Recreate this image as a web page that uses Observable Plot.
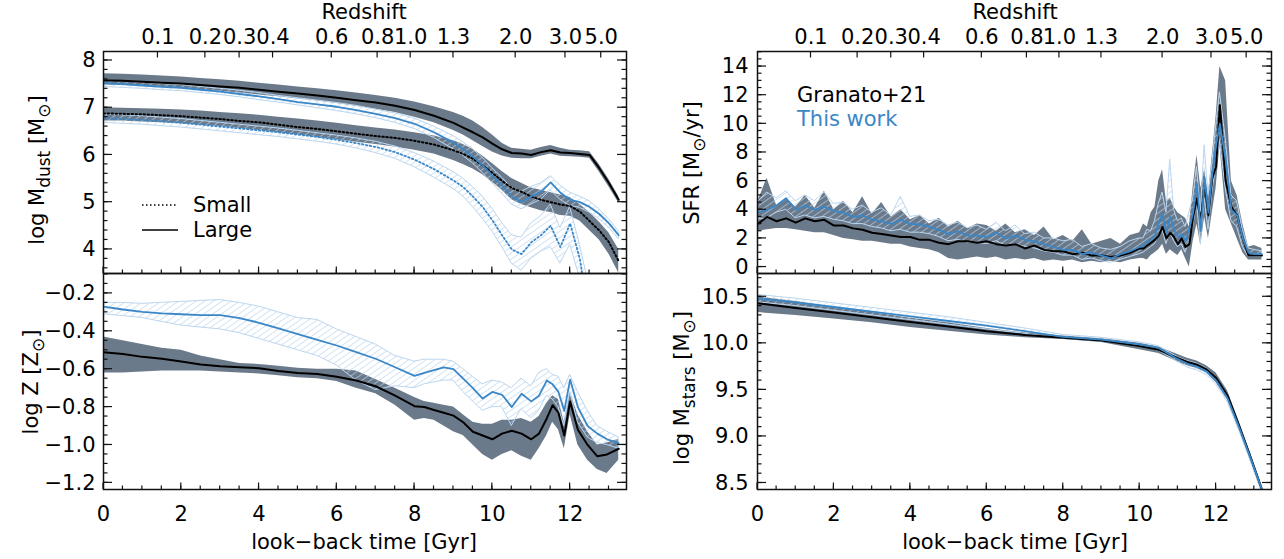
<!DOCTYPE html>
<html><head><meta charset="utf-8">
<script src="https://cdn.jsdelivr.net/npm/d3@7"></script>
<script src="https://cdn.jsdelivr.net/npm/@observablehq/plot@0.6"></script>
<style>
html,body{margin:0;padding:0;background:#fff;}
body{width:1284px;height:559px;overflow:hidden;position:relative;font-family:"DejaVu Sans",sans-serif;}
.p{position:absolute;}
#overlay{position:absolute;left:0;top:0;pointer-events:none;}
</style></head><body>
<svg width="0" height="0" style="position:absolute"><defs>
<pattern id="hatch" patternUnits="userSpaceOnUse" width="5" height="5" patternTransform="rotate(55)">
<line x1="0" y1="0" x2="0" y2="5" stroke="#b9d4ee" stroke-width="1.3"/>
</pattern></defs></svg>
<div id="tl" class="p" style="left:0;top:0"></div>
<div id="bl" class="p" style="left:0;top:273px"></div>
<div id="tr" class="p" style="left:642px;top:0"></div>
<div id="br" class="p" style="left:642px;top:273px"></div>
<svg id="overlay" width="1284" height="559" font-family="DejaVu Sans" font-size="21">
<text x="364" y="19" text-anchor="middle">Redshift</text>
<text x="1015" y="19" text-anchor="middle">Redshift</text>
<text x="364" y="549" text-anchor="middle">look−back time [Gyr]</text>
<text x="1015" y="549" text-anchor="middle">look−back time [Gyr]</text>
<text transform="translate(44,170) rotate(-90)" text-anchor="middle">log M<tspan dy="6" font-size="17">dust</tspan><tspan dy="-6"> [M</tspan><tspan dy="6" font-size="17">⊙</tspan><tspan dy="-6">]</tspan></text>
<text transform="translate(38,382) rotate(-90)" text-anchor="middle">log Z [Z<tspan dy="6" font-size="17">⊙</tspan><tspan dy="-6">]</tspan></text>
<text transform="translate(699,163) rotate(-90)" text-anchor="middle">SFR [M<tspan dy="6" font-size="17">⊙</tspan><tspan dy="-6">/yr]</tspan></text>
<text transform="translate(689,388) rotate(-90)" text-anchor="middle">log M<tspan dy="6" font-size="17">stars</tspan><tspan dy="-6"> [M</tspan><tspan dy="6" font-size="17">⊙</tspan><tspan dy="-6">]</tspan></text>
<line x1="142" y1="205" x2="178" y2="205" stroke="#000" stroke-width="1.6" stroke-dasharray="1.5,2.5"/>
<line x1="142" y1="230" x2="178" y2="230" stroke="#000" stroke-width="1.6"/>
<text x="193" y="212">Small</text>
<text x="193" y="237">Large</text>
<text x="797" y="102">Granato+21</text>
<text x="797" y="126" fill="#3a87c8">This work</text>
</svg>
<script>
// ---------- data ----------
const zLabels = ["0.1","0.2","0.3","0.4","0.6","0.8","1.0","1.3","2.0","3.0","5.0"];
const zTimes = [1.4,2.62,3.5,4.36,5.87,7.05,7.9,9.0,10.6,11.88,12.8];
const xTickValues = [0,2,4,6,8,10,12];

// Dust mass panel
const t1 = [0,0.5,1,1.5,2,2.5,3,3.5,4,4.5,5,5.5,6,6.5,7,7.5,8,8.5,9,9.25,9.5,9.75,10,10.25,10.5,10.75,11,11.25,11.5,11.75,12,12.25,12.5,12.75,13,13.25];
const dustLargeG   = [7.58,7.57,7.55,7.53,7.51,7.48,7.45,7.42,7.38,7.34,7.30,7.26,7.21,7.16,7.11,7.04,6.95,6.83,6.68,6.58,6.48,6.37,6.24,6.12,6.04,6.03,6.00,6.06,6.10,6.05,6.04,6.02,6.00,5.72,5.40,5.05];
const dustLargeGHi = [7.72,7.71,7.69,7.67,7.65,7.62,7.59,7.56,7.52,7.48,7.44,7.40,7.36,7.31,7.26,7.20,7.12,7.02,6.90,6.82,6.72,6.58,6.42,6.25,6.14,6.12,6.10,6.16,6.20,6.14,6.10,6.09,6.07,5.80,5.48,5.12];
const dustLargeGLo = [7.48,7.47,7.45,7.43,7.41,7.38,7.35,7.31,7.27,7.23,7.19,7.14,7.09,7.03,6.97,6.90,6.80,6.68,6.52,6.42,6.30,6.18,6.06,5.98,5.93,5.92,5.92,5.97,6.02,5.97,5.96,5.95,5.93,5.64,5.32,4.98];
const dustLargeB   = [7.52,7.50,7.47,7.44,7.42,7.38,7.34,7.29,7.24,7.18,7.12,7.07,7.02,6.95,6.87,6.78,6.66,6.48,6.26,6.12,5.97,5.78,5.56,5.35,5.12,5.00,5.12,5.22,5.42,5.20,5.05,5.00,4.90,4.75,4.55,4.30];
const dustLargeBHi = [7.58,7.56,7.53,7.50,7.48,7.44,7.40,7.36,7.31,7.25,7.20,7.15,7.10,7.04,6.96,6.88,6.77,6.60,6.40,6.27,6.12,5.94,5.72,5.52,5.30,5.22,5.32,5.40,5.55,5.35,5.20,5.12,5.02,4.85,4.64,4.38];
const dustLargeBLo = [7.44,7.42,7.40,7.37,7.35,7.31,7.27,7.22,7.16,7.11,7.05,6.99,6.93,6.86,6.78,6.68,6.55,6.36,6.12,5.98,5.82,5.62,5.40,5.18,4.95,4.85,4.95,5.05,5.25,5.05,4.92,4.88,4.78,4.64,4.46,4.22];
const dustSmallG   = [6.88,6.87,6.86,6.84,6.82,6.79,6.76,6.72,6.69,6.64,6.59,6.55,6.50,6.45,6.40,6.36,6.30,6.22,6.10,6.02,5.92,5.78,5.62,5.45,5.30,5.22,5.12,5.05,5.00,4.95,4.92,4.80,4.60,4.40,4.15,3.75];
const dustSmallGHi = [7.00,6.99,6.98,6.97,6.95,6.93,6.90,6.87,6.84,6.80,6.76,6.72,6.67,6.62,6.57,6.53,6.47,6.40,6.30,6.22,6.12,5.98,5.82,5.65,5.50,5.40,5.30,5.25,5.20,5.15,5.10,4.95,4.78,4.58,4.35,4.00];
const dustSmallGLo = [6.72,6.72,6.70,6.68,6.66,6.63,6.60,6.56,6.52,6.47,6.42,6.37,6.32,6.27,6.22,6.17,6.10,6.02,5.88,5.80,5.70,5.58,5.42,5.25,5.05,4.95,4.88,4.82,4.78,4.72,4.70,4.60,4.40,4.20,3.90,3.50];
const dustSmallB   = [6.78,6.76,6.74,6.71,6.68,6.64,6.60,6.56,6.52,6.48,6.43,6.38,6.32,6.25,6.17,6.06,5.90,5.70,5.46,5.32,5.12,4.90,4.62,4.30,4.00,3.90,4.15,4.30,4.50,4.05,4.55,3.80,2.50,2.50,2.50,2.50];
const dustSmallBHi = [6.86,6.84,6.82,6.79,6.76,6.72,6.68,6.64,6.60,6.56,6.51,6.46,6.41,6.35,6.28,6.18,6.04,5.86,5.64,5.50,5.32,5.12,4.86,4.56,4.30,4.25,4.55,4.70,4.95,4.45,4.90,4.10,3.20,3.20,3.20,3.20];
const dustSmallBLo = [6.68,6.66,6.64,6.61,6.58,6.54,6.50,6.46,6.42,6.38,6.33,6.28,6.22,6.14,6.04,5.92,5.74,5.52,5.28,5.12,4.90,4.65,4.38,4.05,3.70,3.55,3.80,3.95,4.05,3.70,4.10,3.40,2.50,2.50,2.50,2.50];

// Metallicity panel
const t2 = [0,0.5,1,1.5,2,2.5,3,3.5,4,4.5,5,5.5,6,6.5,7,7.5,8,8.25,8.5,8.75,9,9.25,9.5,9.75,10,10.25,10.5,10.75,11,11.2,11.4,11.55,11.7,11.85,12,12.2,12.45,12.7,12.95,13.25];
const zG   = [-0.51,-0.52,-0.535,-0.545,-0.56,-0.575,-0.585,-0.59,-0.595,-0.61,-0.62,-0.625,-0.64,-0.66,-0.69,-0.74,-0.795,-0.80,-0.815,-0.83,-0.845,-0.88,-0.93,-0.95,-0.97,-0.94,-0.925,-0.94,-0.97,-0.94,-0.86,-0.79,-0.83,-0.95,-0.77,-0.92,-1.00,-1.06,-1.05,-1.02];
const zGHi = [-0.43,-0.45,-0.47,-0.49,-0.50,-0.53,-0.55,-0.57,-0.575,-0.585,-0.595,-0.60,-0.60,-0.61,-0.655,-0.70,-0.75,-0.77,-0.78,-0.79,-0.80,-0.84,-0.88,-0.89,-0.89,-0.87,-0.87,-0.86,-0.88,-0.85,-0.78,-0.74,-0.76,-0.88,-0.72,-0.84,-0.93,-1.00,-0.99,-0.97];
const zGLo = [-0.62,-0.62,-0.615,-0.61,-0.61,-0.61,-0.615,-0.62,-0.625,-0.635,-0.645,-0.65,-0.665,-0.70,-0.73,-0.79,-0.87,-0.86,-0.87,-0.90,-0.93,-0.95,-1.00,-1.05,-1.08,-1.05,-1.03,-1.06,-1.08,-1.02,-0.95,-0.88,-0.92,-1.02,-0.84,-1.00,-1.08,-1.13,-1.15,-1.08];
const zB   = [-0.27,-0.285,-0.297,-0.305,-0.31,-0.315,-0.315,-0.33,-0.355,-0.385,-0.415,-0.445,-0.475,-0.51,-0.545,-0.59,-0.635,-0.62,-0.605,-0.59,-0.60,-0.65,-0.70,-0.755,-0.72,-0.735,-0.80,-0.73,-0.77,-0.74,-0.66,-0.68,-0.72,-0.82,-0.655,-0.80,-0.90,-0.94,-0.97,-0.99];
const zBHi = [-0.25,-0.25,-0.255,-0.25,-0.245,-0.24,-0.235,-0.25,-0.27,-0.30,-0.33,-0.34,-0.39,-0.43,-0.47,-0.53,-0.56,-0.55,-0.55,-0.55,-0.56,-0.60,-0.64,-0.68,-0.66,-0.67,-0.70,-0.65,-0.69,-0.62,-0.60,-0.63,-0.64,-0.70,-0.63,-0.72,-0.82,-0.90,-0.93,-0.96];
const zBLo = [-0.31,-0.32,-0.33,-0.35,-0.37,-0.38,-0.39,-0.41,-0.44,-0.47,-0.50,-0.53,-0.58,-0.66,-0.71,-0.69,-0.70,-0.68,-0.67,-0.66,-0.66,-0.72,-0.77,-0.82,-0.80,-0.80,-0.90,-0.81,-0.86,-0.82,-0.74,-0.76,-0.80,-0.90,-0.72,-0.88,-0.96,-0.99,-1.00,-1.02];

// SFR panel
const t3 = [0,0.25,0.5,0.75,1,1.25,1.5,1.75,2,2.25,2.5,2.75,3,3.25,3.5,3.75,4,4.25,4.5,4.75,5,5.25,5.5,5.75,6,6.25,6.5,6.75,7,7.25,7.5,7.75,8,8.25,8.5,8.75,9,9.25,9.5,9.75,10,
  10.1,10.2,10.3,10.4,10.5,10.6,10.7,10.8,10.9,11,11.1,11.2,11.3,11.4,11.5,11.6,11.7,11.8,11.9,12,12.1,12.25,12.4,12.55,12.7,12.85,13,13.2];
const sfrG   = [3.0,3.5,3.2,3.4,3.1,3.4,3.2,3.3,2.9,2.9,2.7,2.6,2.4,2.3,2.2,2.1,2.1,1.9,1.9,1.7,1.6,1.8,1.8,1.7,1.8,1.6,1.5,1.6,1.3,1.5,1.2,1.1,1.1,0.9,1.0,0.8,0.8,0.7,0.8,1.0,1.3,
  1.3,1.5,1.7,1.9,2.2,2.8,2.0,2.4,2.1,1.6,2.0,1.4,1.6,3.5,4.8,3.2,5.8,3.6,6.2,7.0,11.3,6.0,4.2,3.6,2.0,0.8,0.8,0.8];
const sfrGHi = [4.5,6.2,4.3,4.8,4.2,5.0,4.1,5.3,4.0,4.6,3.8,4.9,3.7,4.5,3.5,4.0,3.3,3.6,3.0,3.4,2.8,3.2,2.7,3.0,2.9,2.5,3.0,2.4,2.6,2.2,2.8,1.9,2.2,1.8,2.6,1.6,1.8,2.0,1.6,2.2,2.4,
  3.0,2.8,3.8,4.2,6.0,6.8,4.6,4.8,4.2,3.8,3.6,3.4,2.8,5.6,7.8,5.5,6.8,5.0,7.8,10.5,14.0,13.0,6.0,5.0,3.0,1.4,1.5,1.3];
const sfrGLo = [2.5,2.6,2.7,2.7,2.6,2.5,2.4,2.4,2.2,2.0,1.9,1.8,1.8,1.7,1.6,1.6,1.4,1.3,1.2,1.0,0.6,0.5,0.6,0.7,0.6,0.7,0.5,0.6,0.5,0.6,0.4,0.5,0.4,0.5,0.3,0.4,0.3,0.4,0.3,0.5,0.6,
  0.6,0.5,0.8,1.0,1.2,1.6,0.9,1.2,1.0,0.8,1.2,0.6,0.0,1.8,3.0,1.5,3.5,2.0,3.8,5.5,8.5,4.0,3.0,2.0,1.0,0.5,0.5,0.5];
const sfrB   = [3.8,4.0,4.3,4.8,4.0,4.3,4.0,4.2,3.9,3.8,3.5,3.6,3.3,3.2,3.0,3.3,3.0,3.0,2.8,2.6,2.3,2.5,2.2,2.2,2.1,2.4,2.0,2.2,1.9,1.8,1.6,1.4,1.2,1.2,0.9,1.0,0.8,0.6,0.9,1.1,1.4,
  1.5,1.8,1.9,2.2,3.1,3.7,2.4,3.5,2.6,2.1,2.3,1.8,2.7,3.8,5.8,2.5,6.2,3.8,6.5,8.5,10.0,7.5,4.0,3.6,2.0,1.0,0.9,0.9];
const sfrBHi = [4.5,5.2,4.8,5.3,4.6,5.0,4.6,5.2,4.4,4.5,4.0,4.3,3.8,4.1,3.6,4.9,3.5,3.6,3.2,3.3,2.9,3.1,2.7,2.9,2.6,3.1,2.5,2.9,2.3,2.4,2.0,2.0,1.8,1.9,1.4,1.6,1.3,1.2,1.4,1.8,2.0,
  2.0,2.6,2.5,3.2,4.4,5.2,3.8,7.5,4.0,3.2,3.4,2.8,3.8,4.8,7.0,3.8,8.5,5.0,7.2,9.8,12.2,9.0,5.0,4.6,2.6,1.3,1.2,1.1];
const sfrBLo = [3.3,3.4,3.8,4.0,3.4,3.6,3.4,3.5,3.3,3.2,3.0,3.0,2.8,2.7,2.5,2.6,2.4,2.4,2.3,2.1,1.8,1.9,1.7,1.7,1.6,1.8,1.5,1.6,1.4,1.3,1.1,1.0,0.8,0.8,0.5,0.6,0.4,0.3,0.5,0.7,0.9,
  1.0,1.2,1.4,1.6,2.2,2.6,1.6,2.4,1.8,1.4,1.6,1.0,1.8,2.8,4.5,1.6,4.8,2.6,5.2,7.0,8.8,5.5,3.2,2.8,1.4,0.7,0.7,0.7];

// Stellar mass panel
const t4 = [0,1,2,3,4,5,6,7,8,9,10,10.5,11,11.25,11.5,11.75,12,12.3,12.6,12.9,13.2];
const msG   = [10.43,10.38,10.33,10.28,10.23,10.18,10.13,10.09,10.06,10.03,9.97,9.93,9.84,9.80,9.77,9.72,9.63,9.44,9.12,8.78,8.43];
const msGHi = [10.50,10.45,10.39,10.33,10.27,10.22,10.16,10.11,10.08,10.05,10.00,9.96,9.88,9.84,9.81,9.76,9.68,9.49,9.16,8.82,8.47];
const msGLo = [10.33,10.30,10.26,10.22,10.17,10.13,10.09,10.06,10.04,10.01,9.93,9.89,9.80,9.76,9.73,9.68,9.58,9.39,9.07,8.74,8.39];
const msB   = [10.48,10.44,10.39,10.34,10.29,10.24,10.19,10.13,10.07,10.04,9.99,9.95,9.83,9.78,9.75,9.70,9.60,9.41,9.10,8.77,8.43];
const msBHi = [10.52,10.48,10.43,10.38,10.33,10.28,10.22,10.16,10.09,10.06,10.01,9.97,9.85,9.81,9.78,9.73,9.64,9.45,9.13,8.80,8.46];
const msBLo = [10.44,10.40,10.35,10.30,10.25,10.20,10.15,10.10,10.05,10.02,9.97,9.92,9.80,9.74,9.71,9.66,9.56,9.37,9.07,8.74,8.40];

// ---------- styling ----------
const GRAY = "#6b7a8a", BLUE = "#3a87c8", LIGHT = "#bcd6ef";
const FONT = "DejaVu Sans";
const FS = 21;
const XMAX = 13.45;

const rows = (t, med, lo, hi) => t.map((x, i) => ({t: x, med: med[i], lo: lo[i], hi: hi[i]}));

function panel(cfg) {
  const marks = [];
  for (const r of cfg.gray) marks.push(Plot.areaY(r, {x: "t", y1: "lo", y2: "hi", fill: GRAY, clip: true}));
  for (const r of cfg.blue) marks.push(Plot.areaY(r, {x: "t", y1: "lo", y2: "hi", fill: "url(#hatch)", stroke: LIGHT, strokeWidth: 1, clip: true}));
  for (const [r, dot] of cfg.gLines) marks.push(Plot.line(r, {x: "t", y: "med", stroke: "#000", strokeWidth: 2, strokeDasharray: dot ? "1.5,2.5" : null, clip: true}));
  for (const [r, dot] of cfg.bLines) marks.push(Plot.line(r, {x: "t", y: "med", stroke: BLUE, strokeWidth: 1.8, strokeDasharray: dot ? "1.5,2.5" : null, clip: true}));
  marks.push(Plot.frame({stroke: "#111", strokeWidth: 1.5}));
  marks.push(Plot.axisY(cfg.yMajor, {tickSize: 0, tickPadding: cfg.yPad, tickFormat: cfg.yFormat, fontSize: FS}));
  if (cfg.bottomLabels) marks.push(Plot.axisX(xTickValues, {anchor: "bottom", tickSize: 0, tickPadding: 17, tickFormat: d => String(d), fontSize: FS}));
  if (cfg.redshift) marks.push(Plot.axisX(zTimes, {anchor: "top", tickSize: 0, tickPadding: 8, tickFormat: d => zLabels[zTimes.indexOf(d)], fontSize: FS}));
  const plot = Plot.plot({
    width: cfg.width, height: cfg.height,
    marginTop: cfg.mt, marginBottom: cfg.mb, marginLeft: cfg.ml, marginRight: cfg.mr,
    x: {domain: [0, XMAX], label: null},
    y: {domain: cfg.yDomain, label: null},
    style: {fontFamily: FONT, fontSize: FS + "px", color: "#000", background: "transparent", overflow: "visible"},
    marks
  });
  // inward IDL-style tick marks, positioned with the plot's own scales
  const sx = plot.scale("x"), sy = plot.scale("y");
  const [xl, xr] = sx.range, [yb, yt] = sy.range;
  const g = d3.select(plot).append("g").attr("stroke", "#111").attr("stroke-width", 1.2);
  const seg = (x1, y1, x2, y2) => g.append("line").attr("x1", x1).attr("y1", y1).attr("x2", x2).attr("y2", y2);
  const [d0, d1] = cfg.yDomain;
  for (const v of cfg.yMinor) { if (v < d0 || v > d1) continue; const y = sy.apply(v); seg(xl, y, xl + 4.5, y); seg(xr, y, xr - 4.5, y); }
  for (const v of cfg.yMajor) { const y = sy.apply(v); seg(xl, y, xl + 9, y); seg(xr, y, xr - 9, y); }
  if (cfg.bottomTicks) {
    for (const v of d3.range(0.5, XMAX, 0.5)) { const x = sx.apply(v); seg(x, yb, x, yb - 3.5); }
    for (const v of xTickValues) { const x = sx.apply(v); seg(x, yb, x, yb - 6.5); }
  }
  if (cfg.redshift) for (const v of zTimes) { const x = sx.apply(v); seg(x, yt, x, yt + 6.5); }
  document.getElementById(cfg.id).appendChild(plot);
}

const topGeom = {width: 642, height: 273, mt: 51, mb: 0};
const botGeom = {width: 642, height: 286, mt: 0, mb: 70};
const leftGeom = {ml: 103, mr: 16, yPad: 8};
const rightGeom = {ml: 115, mr: 13, yPad: 9};

// Dust
const dLG = rows(t1, dustLargeG, dustLargeGLo, dustLargeGHi);
const dSG = rows(t1, dustSmallG, dustSmallGLo, dustSmallGHi);
const dLB = rows(t1, dustLargeB, dustLargeBLo, dustLargeBHi);
const dSB = rows(t1, dustSmallB, dustSmallBLo, dustSmallBHi);
panel({id: "tl", ...topGeom, ...leftGeom, yDomain: [3.49, 8.19],
  yMajor: [4,5,6,7,8], yMinor: d3.range(3.6, 8.2, 0.2), yFormat: d3.format("d"),
  gray: [dLG, dSG], blue: [dLB, dSB], gLines: [[dLG, false], [dSG, true]], bLines: [[dLB, false], [dSB, true]],
  redshift: true, bottomTicks: true, bottomLabels: false});

// Metallicity
const zGr = rows(t2, zG, zGLo, zGHi);
const zBr = rows(t2, zB, zBLo, zBHi);
panel({id: "bl", ...botGeom, ...leftGeom, yDomain: [-1.235, -0.095],
  yMajor: [-1.2,-1.0,-0.8,-0.6,-0.4,-0.2], yMinor: d3.range(-1.2, -0.09, 0.05), yFormat: d3.format(".1f"),
  gray: [zGr], blue: [zBr], gLines: [[zGr, false]], bLines: [[zBr, false]],
  redshift: false, bottomTicks: true, bottomLabels: true});

// SFR
const sGr = rows(t3, sfrG, sfrGLo, sfrGHi);
const sBr = rows(t3, sfrB, sfrBLo, sfrBHi);
panel({id: "tr", ...topGeom, ...rightGeom, yDomain: [-0.45, 15.05],
  yMajor: [0,2,4,6,8,10,12,14], yMinor: d3.range(0, 15.01, 0.5), yFormat: d3.format("d"),
  gray: [sGr], blue: [sBr], gLines: [[sGr, false]], bLines: [[sBr, false]],
  redshift: true, bottomTicks: true, bottomLabels: false});

// Stellar mass
const mGr = rows(t4, msG, msGLo, msGHi);
const mBr = rows(t4, msB, msBLo, msBHi);
panel({id: "br", ...botGeom, ...rightGeom, yDomain: [8.43, 10.75],
  yMajor: [8.5,9.0,9.5,10.0,10.5], yMinor: d3.range(8.5, 10.76, 0.1), yFormat: d3.format(".1f"),
  gray: [mGr], blue: [mBr], gLines: [[mGr, false]], bLines: [[mBr, false]],
  redshift: false, bottomTicks: true, bottomLabels: true});
</script>
</body></html>
